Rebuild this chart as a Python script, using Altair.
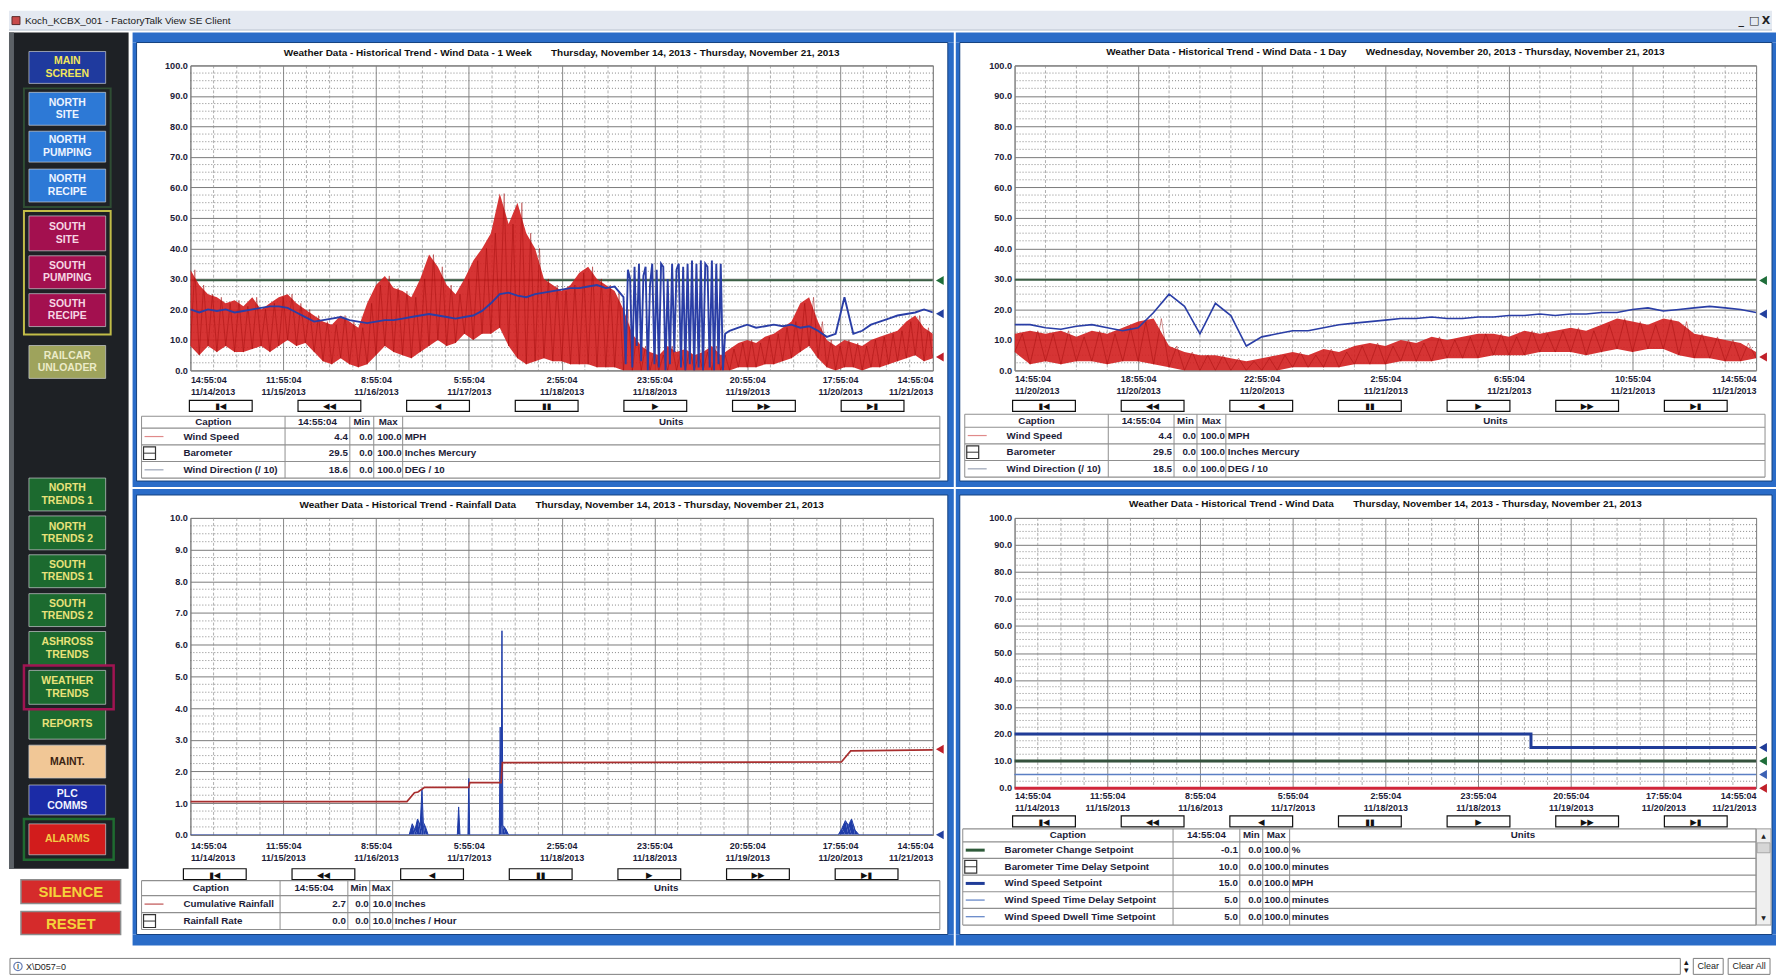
import altair as alt
import pandas as pd

# ============================ DATA ============================
WINDOW_TITLE = "Koch_KCBX_001 - FactoryTalk View SE Client"
STATUS_TEXT = "X\\D057=0"

TITLE_TL = ["Weather Data - Historical Trend - Wind Data - 1 Week", "Thursday, November 14, 2013 - Thursday, November 21, 2013"]
TITLE_TR = ["Weather Data - Historical Trend - Wind Data - 1 Day", "Wednesday, November 20, 2013 - Thursday, November 21, 2013"]
TITLE_BL = ["Weather Data - Historical Trend - Rainfall Data", "Thursday, November 14, 2013 - Thursday, November 21, 2013"]
TITLE_BR = ["Weather Data - Historical Trend - Wind Data", "Thursday, November 14, 2013 - Thursday, November 21, 2013"]

WEEK_TICK_TIMES = ["14:55:04", "11:55:04", "8:55:04", "5:55:04", "2:55:04", "23:55:04", "20:55:04", "17:55:04", "14:55:04"]
WEEK_TICK_DATES = ["11/14/2013", "11/15/2013", "11/16/2013", "11/17/2013", "11/18/2013", "11/18/2013", "11/19/2013", "11/20/2013", "11/21/2013"]
DAY_TICK_TIMES = ["14:55:04", "18:55:04", "22:55:04", "2:55:04", "6:55:04", "10:55:04", "14:55:04"]
DAY_TICK_DATES = ["11/20/2013", "11/20/2013", "11/20/2013", "11/21/2013", "11/21/2013", "11/21/2013", "11/21/2013"]

NAV_SYMBOLS = ["\u25ae\u25c0", "\u25c0\u25c0", "\u25c0", "\u25ae\u25ae", "\u25b6", "\u25b6\u25b6", "\u25b6\u25ae"]
TABLE_HEADER = ["Caption", "14:55:04", "Min", "Max", "Units"]

# --- top-left: one week of wind data, hours since 14:55:04 11/14 ---
TL_WIND_HOURS = list(range(0, 169, 2))
TL_WIND_LO = [8, 5, 8, 6, 8, 6, 6, 7, 8, 6,
              8, 10, 8, 9, 6, 3, 2, 4, 2, 1,
              2, 5, 8, 6, 5, 4, 6, 8, 10, 8,
              9, 12, 10, 12, 12, 14, 8, 4, 2, 3,
              4, 3, 3, 2, 2, 2, 1, 1, 1, 0,
              0, 0, 0, 0, 0, 0, 0, 0, 0, 0,
              0, 0, 1, 1, 1, 2, 2, 3, 4, 6,
              8, 4, 1, 0, 1, 1, 0, 1, 1, 2,
              3, 4, 5, 3, 4]
TL_WIND_HI = [33, 28, 25, 24, 22, 23, 21, 24, 20, 22,
              24, 25, 22, 20, 18, 16, 15, 18, 16, 14,
              22, 28, 31, 27, 26, 24, 30, 38, 34, 28,
              25, 30, 36, 40, 45, 58, 48, 55, 45, 40,
              30, 28, 26, 28, 32, 34, 30, 28, 26, 20,
              12, 8, 6, 5, 8, 6, 7, 5, 6, 8,
              5, 7, 9, 10, 9, 11, 12, 14, 16, 22,
              24, 16, 10, 8, 10, 9, 8, 10, 11, 12,
              13, 16, 18, 14, 12]
TL_DIR_HOURS = list(range(0, 97, 2)) + [98 + 0.5 * k for k in range(47)] + list(range(122, 169, 2))
TL_DIR = [20, 19, 20, 19.5, 20, 19, 19.5, 20, 20.5, 21,
          21, 20.5, 19, 17.5, 16, 16.5, 17, 17.5, 16.5, 16,
          15.5, 16, 16.5, 16.5, 17, 17.5, 18, 18.5, 18, 17.5,
          17, 17.5, 18, 19.5, 22, 25, 25.5, 24.5, 24, 25,
          25.5, 26, 26.5, 27, 27, 27.5, 28, 27, 27.5,
          24, 2, 33, 30, 1, 34, 8, 35, 3, 31,
          34, 0, 28, 35, 2, 33, 1, 35, 34, 0,
          30, 2, 35, 6, 33, 35, 1, 34, 0, 35,
          2, 36, 0, 35, 1, 36, 0, 35, 34, 1,
          36, 0, 35, 2, 35, 0, 12,
          13, 14, 15, 14, 14.5, 15, 14.5, 15, 14, 14.5,
          13, 11, 12, 24, 12, 13, 15, 16, 17, 18,
          18.5, 19, 20, 19]
TL_BARO_HOURS = [0, 168]
TL_BARO = [29.6, 29.6]

# --- top-right: one day of wind data, hours since 14:55:04 11/20 ---
TR_HOURS = [0.5 * k for k in range(49)]
TR_WIND_LO = [6, 2, 3, 2, 3, 3, 2, 3, 3, 2,
              1, 0, 0, 0, 0, 0, 0, 0, 1, 1,
              1, 1, 2, 2, 2, 3, 3, 3, 4, 4,
              4, 5, 5, 5, 6, 6, 6, 5, 6, 7,
              6, 7, 7, 5, 4, 4, 3, 3, 4]
TR_WIND_HI = [12, 13, 12, 13, 11, 13, 12, 14, 16, 17,
              8, 6, 5, 5, 4, 3, 4, 5, 6, 5,
              7, 6, 8, 9, 8, 10, 9, 11, 10, 11,
              12, 12, 11, 13, 12, 13, 14, 13, 15, 17,
              16, 15, 17, 16, 12, 11, 10, 9, 6]
TR_DIR = [15, 15, 14, 13.5, 14.5, 15, 14, 13, 14, 19,
          25, 21, 12, 22, 18, 8, 11, 12, 13, 13,
          14, 15, 15.5, 16, 16.5, 17, 17, 17.5, 17, 17,
          17.5, 17.5, 18, 18, 18.5, 18, 18.5, 18.5, 19, 19,
          20, 20.5, 19.5, 20, 20.5, 21, 20.5, 20, 19]
TR_BARO_HOURS = [0, 24]
TR_BARO = [29.7, 29.7]

# --- bottom-left: rainfall ---
RAIN_CUM_HOURS = [0, 49, 50.7, 51.5, 53, 63, 63.2, 70.3, 70.6, 147.3, 149.4, 168]
RAIN_CUM = [1.05, 1.05, 1.33, 1.35, 1.5, 1.5, 1.65, 1.65, 2.28, 2.3, 2.65, 2.68]
RAIN_RATE_HOURS = [0, 49.5, 50.2, 50.8, 51.4, 52.0, 52.4, 52.7, 53.2, 53.8,
                   60.4, 60.7, 61.0, 62.8, 63.0, 63.2, 69.9, 70.1, 70.3, 70.5,
                   70.7, 71.3, 72.0, 146.6, 147.4, 148.2, 148.9, 149.6, 150.4, 151.3, 168]
RAIN_RATE = [0, 0, 0.35, 0.15, 0.5, 0.3, 1.45, 0.4, 0.25, 0,
             0, 0.88, 0, 0, 1.78, 0, 0, 3.4, 0.3, 6.44,
             0.3, 0.2, 0, 0, 0.2, 0.45, 0.3, 0.5, 0.15, 0, 0]

# --- bottom-right: setpoints ---
SP_WS_HOURS = [0, 117, 117, 168]
SP_WS = [20, 20, 15, 15]
SP_FLAT_HOURS = [0, 168]
SP_BTD = [10, 10]
SP_WSTD = [5, 5]
SP_WSDT = [5, 5]
SP_BC = [-0.1, -0.1]

# --- legend tables ---
WIND_CAPTIONS = ["Wind Speed", "Barometer", "Wind Direction (/ 10)"]
WIND_NOW_TL = ["4.4", "29.5", "18.6"]
WIND_NOW_TR = ["4.4", "29.5", "18.5"]
WIND_MIN = ["0.0", "0.0", "0.0"]
WIND_MAX = ["100.0", "100.0", "100.0"]
WIND_UNITS = ["MPH", "Inches Mercury", "DEG / 10"]
RAIN_CAPTIONS = ["Cumulative Rainfall", "Rainfall Rate"]
RAIN_NOW = ["2.7", "0.0"]
RAIN_MIN = ["0.0", "0.0"]
RAIN_MAX = ["10.0", "10.0"]
RAIN_UNITS = ["Inches", "Inches / Hour"]
SP_CAPTIONS = ["Barometer Change Setpoint", "Barometer Time Delay Setpoint", "Wind Speed Setpoint",
               "Wind Speed Time Delay Setpoint", "Wind Speed Dwell Time Setpoint"]
SP_NOW = ["-0.1", "10.0", "15.0", "5.0", "5.0"]
SP_MIN = ["0.0", "0.0", "0.0", "0.0", "0.0"]
SP_MAX = ["100.0", "100.0", "100.0", "100.0", "100.0"]
SP_UNITS = ["%", "minutes", "MPH", "minutes", "minutes"]

# --- navigation side bar ---
SIDEBAR_LABELS = ["MAIN\nSCREEN", "NORTH\nSITE", "NORTH\nPUMPING", "NORTH\nRECIPE",
                  "SOUTH\nSITE", "SOUTH\nPUMPING", "SOUTH\nRECIPE", "RAILCAR\nUNLOADER",
                  "NORTH\nTRENDS 1", "NORTH\nTRENDS 2", "SOUTH\nTRENDS 1", "SOUTH\nTRENDS 2",
                  "ASHROSS\nTRENDS", "WEATHER\nTRENDS", "REPORTS", "MAINT.", "PLC\nCOMMS", "ALARMS"]
BIG_BUTTONS = ["SILENCE", "RESET"]

# ============================ STYLE / LAYOUT ============================
FONT = "'Liberation Sans',Arial,sans-serif"
SYM_FONT = "'DejaVu Sans',sans-serif"
INK = "#1c1c38"
FRAME_BLUE = "#2a6cc8"
RED = "#9e0c0c"
BLUE = "#2a3ea6"
GREEN = "#3b5f45"

SIDEBAR_TOP = [47, 88, 127, 165, 212, 252, 290, 342, 475, 513, 552, 591, 629, 668, 707, 743, 783, 822]
SIDEBAR_BOTTOM = [79, 121, 158, 198, 247, 285, 323, 375, 508, 547, 585, 624, 663, 702, 737, 776, 813, 853]
SIDEBAR_FILL = ["#1f3a9e", "#2d79d6", "#2d79d6", "#2d79d6", "#a3104f", "#a3104f", "#a3104f", "#9ea35c",
                "#1c6a2f", "#1c6a2f", "#1c6a2f", "#1c6a2f", "#1c6a2f", "#1c6a2f", "#1c6a2f",
                "#f1c796", "#1b2ba6", "#d21c1c"]
SIDEBAR_INK = ["#f2e65a", "#eef4ff", "#eef4ff", "#eef4ff", "#f6d6e4", "#f6d6e4", "#f6d6e4", "#ecebc8",
               "#e9e27a", "#e9e27a", "#e9e27a", "#e9e27a", "#e9e27a", "#e9e27a", "#e9e27a",
               "#3b2412", "#f2f4ff", "#f3cc45"]

# page-pixel boxes (x0, y0, x1, y1).  Cells in one column share the plot's left edge,
# cells in one row share the plot's top edge (that is how the grid layout aligns them).
GEOM_TL = dict(cell=(130, 28, 954, 484), white=(134, 38, 948, 478), plot=(188, 61, 933, 367), title_y=49, nav_x=187)
GEOM_TR = dict(cell=(954, 28, 1777, 484), white=(958, 38, 1773, 478), plot=(1013, 61, 1757, 367), title_y=48, nav_x=1011)
GEOM_BL = dict(cell=(130, 484, 954, 942), white=(134, 490, 948, 931), plot=(188, 513, 933, 831), title_y=500, nav_x=181)
GEOM_BR = dict(cell=(954, 484, 1777, 942), white=(958, 490, 1773, 931), plot=(1013, 513, 1757, 784), title_y=499, nav_x=1011)


# ============================ helpers ============================
def PX(f):
    return alt.X(f"{f}:Q", scale=None, axis=None)


def PY(f):
    return alt.Y(f"{f}:Q", scale=None, axis=None)


def rects(df, **kw):
    enc = dict(x=PX("x1"), x2="x2:Q", y=PY("y1"), y2="y2:Q")
    if "fill" in df.columns:
        enc["color"] = alt.Color("fill:N", scale=None)
    if "stroke" in df.columns:
        enc["stroke"] = alt.Stroke("stroke:N", scale=None)
    return alt.Chart(df).mark_rect(**kw).encode(**enc)


def rules(df, **kw):
    enc = dict(x=PX("x1"), x2="x2:Q", y=PY("y1"), y2="y2:Q")
    if "c" in df.columns:
        enc["color"] = alt.Color("c:N", scale=None)
    if "w" in df.columns:
        enc["strokeWidth"] = alt.StrokeWidth("w:Q", scale=None)
    return alt.Chart(df).mark_rule(**kw).encode(**enc)


def texts(df, **kw):
    enc = dict(x=PX("tx"), y=PY("ty"), text="t:N")
    if "c" in df.columns:
        enc["color"] = alt.Color("c:N", scale=None)
    return alt.Chart(df).mark_text(**kw).encode(**enc)


def series_df(hours, values):
    return pd.DataFrame({"h": hours, "v": values, "i": list(range(len(hours)))})


def zigzag_df(hours, lo, hi, dh):
    hh, vv = [], []
    for h, a, b in zip(hours, lo, hi):
        hh += [h, h + dh]
        vv += [a, b]
    return series_df(hh, vv)


def panel(geom, title, xmax, times, dates, ymax, ystep, series, markers, table, nav_top, lab_pad):
    X0, Y0, X1, Y1 = geom["plot"]
    W, H = X1 - X0, Y1 - Y0
    rx = lambda v: v - X0
    ry = lambda v: v - Y0
    c, w = geom["cell"], geom["white"]
    cx0, cy0, cx1, cy1 = rx(c[0]), ry(c[1]), rx(c[2]), ry(c[3])
    wx0, wy0, wx1, wy1 = rx(w[0]), ry(w[1]), rx(w[2]), ry(w[3])

    nx = len(times) - 1
    xstep = xmax / nx
    xvals = [k * xstep for k in range(nx + 1)]
    js = "[" + ",".join('["%s","%s"]' % (t, d) for t, d in zip(times, dates)) + "]"
    xa = alt.Axis(values=xvals, labelExpr=f"{js}[round(datum.value / {xstep})]", grid=True,
                  ticks=False, tickSize=0, domain=False, labelFlush=True, labelOverlap=False,
                  labelPadding=lab_pad, labelLineHeight=12, labelFontSize=9, labelFont=FONT,
                  labelFontWeight="bold", labelColor=INK, gridColor="#8a8a8a", gridWidth=1, title=None)
    ny = round(ymax / ystep)
    yvals = [k * ystep for k in range(ny + 1)]
    ya = alt.Axis(values=yvals, format=".1f", grid=True, ticks=False, tickSize=0, domain=False,
                  labelPadding=3, labelFontSize=9.2, labelFont=FONT, labelFontWeight="bold",
                  labelColor=INK, gridColor="#7a7a7a", gridWidth=1, title=None)
    xs = alt.Scale(domain=[0, xmax], nice=False, zero=False)
    ys = alt.Scale(domain=[0, ymax], nice=False, zero=False)
    X = lambda f="h": alt.X(f"{f}:Q", scale=xs, axis=xa)
    Y = lambda f="v": alt.Y(f"{f}:Q", scale=ys, axis=ya)

    layers = []
    frame = pd.DataFrame({"x1": [cx0, cx0, cx0, wx1], "x2": [cx1, cx1, wx0, cx1],
                          "y1": [cy0, wy1, wy0, wy0], "y2": [wy0, cy1, wy1, wy1]})
    layers.append(rects(frame, color=FRAME_BLUE))
    layers.append(rects(pd.DataFrame({"x1": [wx0], "x2": [wx1], "y1": [wy0], "y2": [wy1]}),
                        fillOpacity=0, stroke="#14407f", strokeWidth=1))
    tdf = pd.DataFrame({"tx": [W / 2], "ty": [ry(geom["title_y"])],
                        "t": [title[0] + "\u00a0" * 7 + title[1]]})
    layers.append(texts(tdf, font=FONT, fontSize=10, fontWeight="bold", color="#111111",
                        align="center", baseline="middle"))

    hminor = pd.DataFrame({"v": [k * ystep / 4 for k in range(4 * ny + 1) if k % 4]})
    vminor = pd.DataFrame({"h": [k * xstep / 4 for k in range(4 * nx + 1) if k % 4]})
    layers.append(alt.Chart(hminor).mark_rule(color="#6a6a6a", strokeDash=[1, 2], strokeWidth=0.8).encode(y=Y()))
    layers.append(alt.Chart(vminor).mark_rule(color="#8c8c8c", strokeDash=[3, 2], strokeWidth=0.7).encode(x=X()))

    for s in series:
        kind = s["kind"]
        if kind == "band":
            layers.append(alt.Chart(s["df"]).mark_area(color=s["color"], opacity=s.get("opacity", 0.6), clip=True)
                          .encode(x=X(), y=Y("lo"), y2="hi:Q"))
        elif kind == "area":
            layers.append(alt.Chart(s["df"]).mark_area(color=s["color"], opacity=s.get("opacity", 1.0), clip=True)
                          .encode(x=X(), y=Y(), order="i:Q"))
        else:
            layers.append(alt.Chart(s["df"]).mark_line(color=s["color"], strokeWidth=s["width"],
                                                       clip=s.get("clip", True), opacity=s.get("opacity", 1.0))
                          .encode(x=X(), y=Y(), order="i:Q"))

    mk = pd.DataFrame({"v": [m[0] for m in markers], "c": [m[1] for m in markers]})
    layers.append(alt.Chart(mk).mark_point(shape="triangle-left", filled=True, size=80, opacity=1)
                  .encode(x=alt.value(W + 7), y=Y(), color=alt.Color("c:N", scale=None)))

    # navigation buttons
    bx = [rx(geom["nav_x"]) + k * 109 for k in range(len(NAV_SYMBOLS))]
    nt = ry(nav_top)
    nav = pd.DataFrame({"x1": bx, "x2": [v + 63 for v in bx], "y1": [nt] * 7, "y2": [nt + 11] * 7,
                        "tx": [v + 31.5 for v in bx], "ty": [nt + 6] * 7, "t": NAV_SYMBOLS})
    layers.append(rects(nav, color="#ffffff", stroke="#111111", strokeWidth=1.2))
    layers.append(texts(nav, font=SYM_FONT, fontSize=8.5, color="#111111", align="center", baseline="middle"))

    # legend table
    cols = [rx(v) for v in table["cols"]]
    hy0, hy1 = ry(table["head"][0]), ry(table["head"][1])
    rh = table["row_h"]
    n = len(table["captions"])
    yb = [hy0, hy1] + [hy1 + rh * (k + 1) for k in range(n)]
    tb = yb[-1]
    if table.get("scroll"):
        sb = pd.DataFrame({"x1": [cols[-1]], "x2": [cols[-1] + 15], "y1": [hy0], "y2": [tb]})
        layers.append(rects(sb, color="#efefef", stroke="#9a9a9a", strokeWidth=1))
        thumb = pd.DataFrame({"x1": [cols[-1] + 1], "x2": [cols[-1] + 14], "y1": [hy0 + 14], "y2": [hy0 + 24]})
        layers.append(rects(thumb, color="#d6d6d6", stroke="#9a9a9a", strokeWidth=0.8))
        arr = pd.DataFrame({"tx": [cols[-1] + 7.5, cols[-1] + 7.5], "ty": [hy0 + 7, tb - 7], "t": ["\u25b2", "\u25bc"]})
        layers.append(texts(arr, font=SYM_FONT, fontSize=6, color="#222222", align="center", baseline="middle"))
    hl = pd.DataFrame({"x1": [cols[0]] * len(yb), "x2": [cols[-1]] * len(yb), "y1": yb, "y2": yb})
    layers.append(rules(hl, color="#8f8f8f", strokeWidth=1.2))
    vx = [cols[0]] + cols[1:-1] + [cols[-1]]
    vl = pd.DataFrame({"x1": vx, "x2": vx, "y1": [hy0] * len(vx), "y2": [tb] * len(vx)})
    layers.append(rules(vl, color="#8f8f8f", strokeWidth=1))

    mids = [(yb[k + 1] + yb[k + 2]) / 2 for k in range(n)]
    hdr = pd.DataFrame({"tx": [(cols[0] + cols[1]) / 2] + [(cols[k] + cols[k + 1]) / 2 for k in range(1, 5)],
                        "ty": [(hy0 + hy1) / 2] * 5, "t": TABLE_HEADER})
    tfont = dict(font=FONT, fontSize=9.8, fontWeight="bold", color=INK, baseline="middle")
    layers.append(texts(hdr, align="center", **tfont))
    left = pd.DataFrame({"tx": [cols[0] + 42] * n + [cols[4] + 2] * n, "ty": mids + mids,
                         "t": table["captions"] + table["units"]})
    layers.append(texts(left, align="left", **tfont))
    right = pd.DataFrame({"tx": [cols[2] - 2] * n + [cols[3] - 1] * n + [cols[4] - 1] * n,
                          "ty": mids * 3, "t": table["now"] + table["mins"] + table["maxs"]})
    layers.append(texts(right, align="right", **tfont))

    icons = table["icons"]
    li = [(k, ic) for k, ic in enumerate(icons) if ic[0] == "line"]
    if li:
        idf = pd.DataFrame({"x1": [cols[0] + 3] * len(li), "x2": [cols[0] + 22] * len(li),
                            "y1": [mids[k] for k, _ in li], "y2": [mids[k] for k, _ in li],
                            "c": [ic[1] for _, ic in li], "w": [ic[2] for _, ic in li]})
        layers.append(rules(idf))
    bi = [k for k, ic in enumerate(icons) if ic[0] == "box"]
    if bi:
        bdf = pd.DataFrame({"x1": [cols[0] + 2] * len(bi), "x2": [cols[0] + 14] * len(bi),
                            "y1": [yb[k + 1] + 2 for k in bi], "y2": [yb[k + 2] - 2 for k in bi]})
        layers.append(rects(bdf, color="#ffffff", stroke="#333333", strokeWidth=1.2))
        bl = pd.DataFrame({"x1": [cols[0] + 2] * len(bi), "x2": [cols[0] + 14] * len(bi),
                           "y1": [mids[k] for k in bi], "y2": [mids[k] for k in bi]})
        layers.append(rules(bl, color="#333333", strokeWidth=1))

    return alt.layer(*layers).properties(width=W, height=H)


# ============================ the four trend panels ============================
tl_series = [
    dict(kind="line", df=series_df(TL_BARO_HOURS, TL_BARO), color=GREEN, width=2),
    dict(kind="band", df=pd.DataFrame({"h": TL_WIND_HOURS, "lo": TL_WIND_LO, "hi": TL_WIND_HI}), color="#d21e1e", opacity=0.9),
    dict(kind="line", df=zigzag_df(TL_WIND_HOURS, TL_WIND_LO, TL_WIND_HI, 1), color=RED, width=0.6, opacity=0.75),
    dict(kind="line", df=series_df(TL_DIR_HOURS, TL_DIR), color=BLUE, width=1.9),
]
tr_series = [
    dict(kind="line", df=series_df(TR_BARO_HOURS, TR_BARO), color=GREEN, width=2),
    dict(kind="band", df=pd.DataFrame({"h": TR_HOURS, "lo": TR_WIND_LO, "hi": TR_WIND_HI}), color="#d21e1e", opacity=0.9),
    dict(kind="line", df=zigzag_df(TR_HOURS, TR_WIND_LO, TR_WIND_HI, 0.25), color=RED, width=0.6, opacity=0.75),
    dict(kind="line", df=series_df(TR_HOURS, TR_DIR), color=BLUE, width=1.6),
]
bl_series = [
    dict(kind="area", df=series_df(RAIN_RATE_HOURS, RAIN_RATE), color="#1f3ca8", opacity=1.0),
    dict(kind="line", df=series_df(RAIN_RATE_HOURS, RAIN_RATE), color="#1f3ca8", width=1),
    dict(kind="line", df=series_df(RAIN_CUM_HOURS, RAIN_CUM), color="#a82e2e", width=1.7),
]
br_series = [
    dict(kind="line", df=series_df(SP_FLAT_HOURS, SP_WSTD), color="#5b7fc4", width=1.4, clip=False),
    dict(kind="line", df=series_df(SP_FLAT_HOURS, SP_WSDT), color="#5b7fc4", width=1.2, clip=False),
    dict(kind="line", df=series_df(SP_FLAT_HOURS, SP_BTD), color="#35523d", width=3, clip=False),
    dict(kind="line", df=series_df(SP_WS_HOURS, SP_WS), color="#203c98", width=3, clip=False),
    dict(kind="line", df=series_df(SP_FLAT_HOURS, SP_BC), color="#d0263a", width=3, clip=False),
]

tl = panel(GEOM_TL, TITLE_TL, 168, WEEK_TICK_TIMES, WEEK_TICK_DATES, 100, 10, tl_series,
           [(float(WIND_NOW_TL[1]), "#1f6e3a"), (float(WIND_NOW_TL[2]), "#23409e"), (float(WIND_NOW_TL[0]), "#c0202a")],
           dict(cols=(139, 283, 348, 372, 401, 940), head=(413, 425), row_h=16.7,
                captions=WIND_CAPTIONS, now=WIND_NOW_TL, mins=WIND_MIN, maxs=WIND_MAX, units=WIND_UNITS,
                icons=[("line", "#e08a8a", 1.2), ("box",), ("line", "#9aa3b5", 1.2)]),
           397, 5)
tr = panel(GEOM_TR, TITLE_TR, 24, DAY_TICK_TIMES, DAY_TICK_DATES, 100, 10, tr_series,
           [(float(WIND_NOW_TR[1]), "#1f6e3a"), (float(WIND_NOW_TR[2]), "#23409e"), (float(WIND_NOW_TR[0]), "#c0202a")],
           dict(cols=(963, 1107, 1173, 1196, 1225, 1766), head=(411, 424), row_h=16.7,
                captions=WIND_CAPTIONS, now=WIND_NOW_TR, mins=WIND_MIN, maxs=WIND_MAX, units=WIND_UNITS,
                icons=[("line", "#e08a8a", 1.2), ("box",), ("line", "#9aa3b5", 1.2)]),
           397, 4)
bl = panel(GEOM_BL, TITLE_BL, 168, WEEK_TICK_TIMES, WEEK_TICK_DATES, 10, 1, bl_series,
           [(float(RAIN_NOW[0]), "#c0202a"), (float(RAIN_NOW[1]), "#23409e")],
           dict(cols=(139, 278, 346, 368, 391, 940), head=(877, 892), row_h=17,
                captions=RAIN_CAPTIONS, now=RAIN_NOW, mins=RAIN_MIN, maxs=RAIN_MAX, units=RAIN_UNITS,
                icons=[("line", "#c86a6a", 1.4), ("box",)]),
           865, 7)
br = panel(GEOM_BR, TITLE_BR, 168, WEEK_TICK_TIMES, WEEK_TICK_DATES, 100, 10, br_series,
           [(float(SP_NOW[2]), "#203c98"), (float(SP_NOW[1]), "#1f6e3a"), (float(SP_NOW[3]), "#3d62b4"), (float(SP_NOW[0]), "#c0202a")],
           dict(cols=(961, 1172, 1239, 1262, 1289, 1757), head=(825, 838), row_h=16.7, scroll=True,
                captions=SP_CAPTIONS, now=SP_NOW, mins=SP_MIN, maxs=SP_MAX, units=SP_UNITS,
                icons=[("line", "#2e5b3a", 3), ("box",), ("line", "#203c98", 3), ("line", "#5b7fc4", 1.2), ("line", "#5b7fc4", 1.2)]),
           812, 4)

NOSTROKE = alt.ViewBackground(stroke="transparent")

# ============================ side bar ============================
# origin of the side bar = page (8, 61): same top edge as the upper plots, so the row aligns.
SB_X0, SB_Y0 = 8, 61
sb_layers = []
sb_layers.append(rects(pd.DataFrame({"x1": [0, 0], "x2": [120, 5], "y1": [28 - SB_Y0, 28 - SB_Y0],
                                     "y2": [867 - SB_Y0, 867 - SB_Y0], "fill": ["#1e2125", "#5c6166"]})))
sb_layers.append(rects(pd.DataFrame({"x1": [23 - SB_X0, 23 - SB_X0], "x2": [110 - SB_X0, 110 - SB_X0],
                                     "y1": [84 - SB_Y0, 207 - SB_Y0], "y2": [203 - SB_Y0, 331 - SB_Y0],
                                     "stroke": ["#2f4d33", "#c2bd48"]}), fillOpacity=0, strokeWidth=2))
btn = pd.DataFrame({"x1": [28 - SB_X0] * len(SIDEBAR_LABELS), "x2": [105 - SB_X0] * len(SIDEBAR_LABELS),
                    "y1": [v - SB_Y0 for v in SIDEBAR_TOP], "y2": [v - SB_Y0 for v in SIDEBAR_BOTTOM],
                    "fill": SIDEBAR_FILL})
sb_layers.append(rects(btn, stroke="#c9ccd0", strokeWidth=1, strokeOpacity=0.7))
sb_layers.append(rects(pd.DataFrame({"x1": [23 - SB_X0, 23 - SB_X0], "x2": [113 - SB_X0, 113 - SB_X0],
                                     "y1": [663 - SB_Y0, 817 - SB_Y0], "y2": [707 - SB_Y0, 858 - SB_Y0],
                                     "stroke": ["#a01452", "#1f6b30"]}), fillOpacity=0, strokeWidth=2.5))
LH = 12.5
btxt = pd.DataFrame({"tx": [66.5 - SB_X0] * len(SIDEBAR_LABELS),
                     "ty": [(a + b) / 2 - SB_Y0 - lab.count("\n") * LH / 2
                            for a, b, lab in zip(SIDEBAR_TOP, SIDEBAR_BOTTOM, SIDEBAR_LABELS)],
                     "t": SIDEBAR_LABELS, "c": SIDEBAR_INK})
sb_layers.append(texts(btxt, font=FONT, fontSize=10.5, fontWeight="bold", align="center", baseline="middle",
                       lineBreak="\n", lineHeight=LH))
big = pd.DataFrame({"x1": [20 - SB_X0, 20 - SB_X0], "x2": [120 - SB_X0, 120 - SB_X0],
                    "y1": [878 - SB_Y0, 910 - SB_Y0], "y2": [902 - SB_Y0, 933 - SB_Y0],
                    "tx": [70 - SB_X0, 70 - SB_X0], "ty": [890.5 - SB_Y0, 922 - SB_Y0], "t": BIG_BUTTONS})
sb_layers.append(rects(big, color="#d52b2b", stroke="#8c8c8c", strokeWidth=1.5))
sb_layers.append(texts(big, font=FONT, fontSize=15, fontWeight="bold", color="#f4d23a", align="center", baseline="middle"))
sidebar = alt.layer(*sb_layers).properties(width=122, height=942 - SB_Y0, view=NOSTROKE)

# ============================ window title bar / status bar ============================
tb_layers = [
    rects(pd.DataFrame({"x1": [0, 0], "x2": [1769, 1769], "y1": [0, 19], "y2": [20, 20],
                        "fill": ["#e4e9f1", "#b9c3d0"]})),
    rects(pd.DataFrame({"x1": [3], "x2": [11], "y1": [6], "y2": [14]}), color="#c84a4a", stroke="#5a2a2a", strokeWidth=1),
    texts(pd.DataFrame({"tx": [16], "ty": [10.5], "t": [WINDOW_TITLE]}), font=FONT, fontSize=10,
          color="#1a1a1a", align="left", baseline="middle"),
    texts(pd.DataFrame({"tx": [1738, 1751, 1763], "ty": [10, 10, 10], "t": ["_", "\u25a1", "X"]}),
          font=SYM_FONT, fontSize=11, fontWeight="bold", color="#222222", align="center", baseline="middle"),
]
title_bar = alt.layer(*tb_layers).properties(width=1769, height=20, view=NOSTROKE)

st_layers = [
    rects(pd.DataFrame({"x1": [1, 1690, 1725], "x2": [1677, 1720, 1767], "y1": [11, 11, 11], "y2": [27, 27, 27]}),
          color="#ffffff", stroke="#7d7d7d", strokeWidth=1),
    alt.Chart(pd.DataFrame({"k": [0]})).mark_point(shape="circle", size=70, filled=False, color="#2a4a9a", strokeWidth=1.2)
    .encode(x=alt.value(9), y=alt.value(19)),
    texts(pd.DataFrame({"tx": [9, 1705, 1746, 1683, 1683], "ty": [19, 19, 19, 15, 23],
                        "t": ["i", "Clear", "Clear All", "\u25b4", "\u25be"]}),
          font=FONT, fontSize=9, color="#1a1a1a", align="center", baseline="middle"),
    texts(pd.DataFrame({"tx": [17], "ty": [19.5], "t": [STATUS_TEXT]}),
          font=FONT, fontSize=9, color="#1a1a1a", align="left", baseline="middle"),
]
status_bar = alt.layer(*st_layers).properties(width=1769, height=28, view=NOSTROKE)

grid = alt.vconcat(alt.hconcat(tl, tr, spacing=0), alt.hconcat(bl, br, spacing=0), spacing=0)
body = alt.hconcat(sidebar, grid, spacing=0)
chart = alt.vconcat(title_bar, body, status_bar, spacing=0).properties(padding=0, background="white")
chart = (chart.configure(font=FONT)
         .configure_view(stroke="#6f6f6f", strokeWidth=1)
         .configure_concat(spacing=0))

chart.save("out.html", embed_options={"renderer": "svg", "actions": False})
